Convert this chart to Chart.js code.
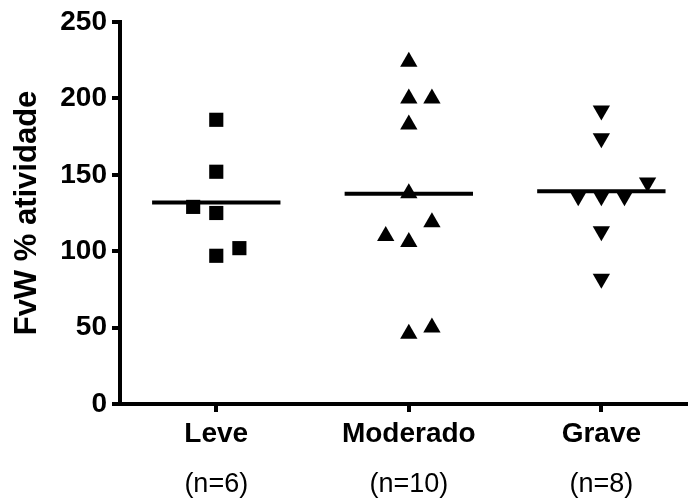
<!DOCTYPE html>
<html>
<head>
<meta charset="utf-8">
<script src="https://cdn.jsdelivr.net/npm/chart.js@4.4.1/dist/chart.umd.min.js"></script>
<style>
  html, body { margin: 0; padding: 0; background: #fff; }
  #wrap { width: 688px; height: 500px; }
</style>
</head>
<body>
<div id="wrap"><canvas id="chart" width="688" height="500"></canvas></div>
<script>
// --- data ---
const categories = ['Leve', 'Moderado', 'Grave'];
const groupSizes = ['(n=6)', '(n=10)', '(n=8)'];

const leveValues = [186, 152, 129, 125, 102, 97];
const leveSpread = [0, 0, -0.12, 0, 0.12, 0];

const moderadoValues = [224, 200, 200, 183, 138, 119, 110, 106, 50, 46];
const moderadoSpread = [0, 0, 0.12, 0, 0, 0.12, -0.12, 0, 0.12, 0];

const graveValues = [192, 174, 145, 136, 136, 136, 113, 82];
const graveSpread = [0, 0, 0.24, -0.12, 0, 0.12, 0, 0];

const yTicks = [0, 50, 100, 150, 200, 250];

const groups = [
    { values: leveValues, spread: leveSpread, style: 'rect', rotation: 0 },
    { values: moderadoValues, spread: moderadoSpread, style: 'triangle', rotation: 0 },
    { values: graveValues, spread: graveSpread, style: 'triangle', rotation: 180 }
];

const mean = arr => arr.reduce((a, b) => a + b, 0) / arr.length;

const datasets = [];
groups.forEach((g, i) => {
    datasets.push({
        type: 'scatter',
        data: g.values.map((v, j) => ({ x: i + 1 + g.spread[j], y: v })),
        pointStyle: g.style,
        rotation: g.rotation,
        pointRadius: 10,
        pointHoverRadius: 10,
        backgroundColor: '#000',
        borderColor: '#000',
        borderWidth: 0,
        order: 2
    });
    // mean line across each group
    const m = mean(g.values);
    datasets.push({
        type: 'line',
        data: [{ x: i + 1 - 1 / 3, y: m }, { x: i + 1 + 1 / 3, y: m }],
        borderColor: '#000',
        borderWidth: 4,
        pointRadius: 0,
        fill: false,
        order: 1
    });
});

const fontFamily = "'Liberation Sans', Arial, sans-serif";
const categoryTicks = scale => { scale.ticks = categories.map((c, i) => ({ value: i + 1 })); };
const noSidePadding = s => { s.paddingLeft = 0; s.paddingRight = 0; };

new Chart(document.getElementById('chart'), {
    data: { datasets },
    options: {
        responsive: false,
        animation: false,
        layout: { autoPadding: false, padding: { top: 22, right: 0, bottom: 1, left: 0 } },
        plugins: { legend: { display: false }, tooltip: { enabled: false } },
        scales: {
            x: {
                type: 'linear',
                position: 'bottom',
                min: 0.5,
                max: 3.45,
                afterBuildTicks: categoryTicks,
                afterFit: s => { s.height = 44; noSidePadding(s); },
                border: { color: '#000', width: 4 },
                grid: { drawOnChartArea: false, drawTicks: true, tickLength: 8, color: '#000', lineWidth: 4 },
                ticks: {
                    padding: 5,
                    color: '#000',
                    maxRotation: 0,
                    autoSkip: false,
                    font: { family: fontFamily, size: 28, weight: 'bold' },
                    callback: (v, i) => categories[i]
                }
            },
            x2: {
                type: 'linear',
                position: 'bottom',
                min: 0.5,
                max: 3.45,
                afterBuildTicks: categoryTicks,
                afterFit: s => { s.height = 51; noSidePadding(s); },
                border: { display: false },
                grid: { display: false, drawTicks: false },
                ticks: {
                    padding: 20,
                    color: '#000',
                    maxRotation: 0,
                    autoSkip: false,
                    font: { family: fontFamily, size: 27 },
                    callback: (v, i) => groupSizes[i]
                }
            },
            y: {
                min: 0,
                max: 250,
                afterBuildTicks: scale => { scale.ticks = yTicks.map(v => ({ value: v })); },
                afterFit: s => { s.width = 120; },
                border: { color: '#000', width: 4 },
                grid: { drawOnChartArea: false, drawTicks: true, tickLength: 8, color: '#000', lineWidth: 4 },
                ticks: {
                    padding: 5,
                    color: '#000',
                    font: { family: fontFamily, size: 28, weight: 'bold' }
                },
                title: {
                    display: true,
                    text: 'FvW % atividade',
                    color: '#000',
                    padding: { top: 9, bottom: 0 },
                    font: { family: fontFamily, size: 31, weight: 'bold' }
                }
            }
        }
    }
});
</script>
</body>
</html>
